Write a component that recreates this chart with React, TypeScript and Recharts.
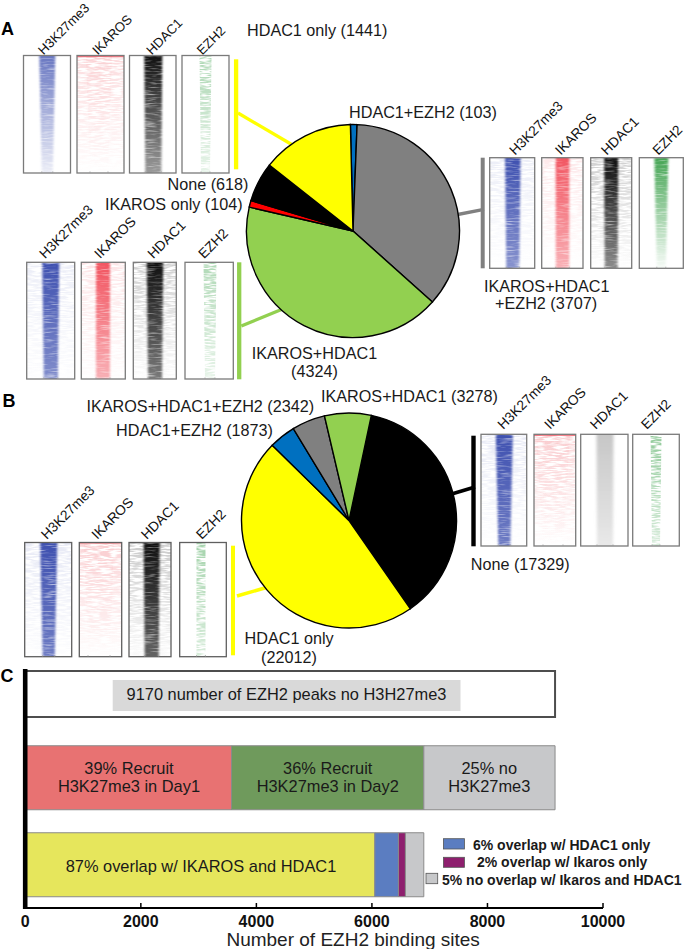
import React from "react";
import { BarChart, Bar, XAxis, YAxis, PieChart, Pie, Cell } from "recharts";

// ---------- data ----------
const pieACategories = ["HDAC1+EZH2", "IKAROS+HDAC1+EZH2", "IKAROS+HDAC1", "IKAROS only", "None", "HDAC1 only"];
const pieAValues = [103, 3707, 4324, 104, 618, 1441];
const pieBCategories = ["None", "HDAC1 only", "HDAC1+EZH2", "IKAROS+HDAC1+EZH2", "IKAROS+HDAC1"];
const pieBValues = [17329, 22012, 1873, 2342, 3278];
const totalRowCategory = ["No H3K27me3 peaks"];
const totalRowValues = [9170];
const stackCategories = ["Recruitment", "Overlap"];
const recruitDay1 = [3570, 0];
const recruitDay2 = [3328, 0];
const noMark = [2272, 0];
const overlapBoth = [0, 6050];
const overlapHdac = [0, 409];
const overlapIkaros = [0, 121];
const overlapNone = [0, 318];
const xTicks = [0, 2000, 4000, 6000, 8000, 10000];
const tracks = ["H3K27me3", "IKAROS", "HDAC1", "EZH2"];

const pieAData = pieACategories.map((name, i) => ({ name, value: pieAValues[i] }));
const pieBData = pieBCategories.map((name, i) => ({ name, value: pieBValues[i] }));
const totalData = totalRowCategory.map((name, i) => ({ name, total: totalRowValues[i] }));
const stackData = stackCategories.map((name, i) => ({
  name,
  day1: recruitDay1[i],
  day2: recruitDay2[i],
  none: noMark[i],
  both: overlapBoth[i],
  hdac: overlapHdac[i],
  ikaros: overlapIkaros[i],
  rest: overlapNone[i],
}));

// ---------- styles ----------
const FONT = "'Liberation Sans', Arial, sans-serif";
const pieAColors = ["#0070c0", "#808080", "#92d050", "#ff0000", "#000000", "#ffff00"];
const pieBColors = ["#000000", "#ffff00", "#0070c0", "#808080", "#92d050"];
const BLUE = "#3f51b0";
const RED = "#f04552";
const PINK = "#f48a90";
const BLACK = "#111111";
const GREEN = "#3aa04a";

// ---------- heat-map panel layout ----------
type Panel = {
  x0: number; x1: number; lx: number; color: string;
  c: number; wt: number; wb: number; ot: number; ob: number;
  washColor?: string; wt0?: number; wb0?: number; smooth?: boolean; topLine?: string; speck?: boolean;
};
type Group = { y0: number; y1: number; ly: number; frame: string; labelSize: number; panels: Panel[] };

const groups: Group[] = [
  {
    y0: 55.5, y1: 173, ly: 55.5, frame: "#7a7a7a", labelSize: 13.2,
    panels: [
      { x0: 23.5, x1: 70.5, lx: 43.5, color: BLUE, c: 47.3, wt: 16, wb: 11, ot: 0.78, ob: 0.1 },
      { x0: 77, x1: 124, lx: 97.7, color: PINK, c: 99, wt: 26, wb: 18, ot: 0.12, ob: 0, washColor: PINK, wt0: 0.3, wb0: 0, topLine: RED, speck: true },
      { x0: 129.5, x1: 176, lx: 151.7, color: BLACK, c: 153.3, wt: 18, wb: 16, ot: 1, ob: 0.42 },
      { x0: 182, x1: 229, lx: 202.3, color: GREEN, c: 205.5, wt: 12, wb: 9, ot: 0.42, ob: 0.12, speck: true },
    ],
  },
  {
    y0: 157.7, y1: 268.3, ly: 155.7, frame: "#7a7a7a", labelSize: 13.8,
    panels: [
      { x0: 489.7, x1: 534.7, lx: 515, color: BLUE, c: 512.8, wt: 15.5, wb: 13, ot: 1, ob: 0.62, washColor: BLUE, wt0: 0.1, wb0: 0 },
      { x0: 541.7, x1: 583, lx: 560.7, color: RED, c: 562.5, wt: 13.5, wb: 13.5, ot: 0.9, ob: 0.42, washColor: RED, wt0: 0.12, wb0: 0 },
      { x0: 590.7, x1: 631.7, lx: 606.7, color: BLACK, c: 611.2, wt: 14, wb: 13, ot: 1, ob: 0.48, washColor: BLACK, wt0: 0.2, wb0: 0 },
      { x0: 639.3, x1: 683.3, lx: 658.3, color: GREEN, c: 661.3, wt: 14, wb: 9, ot: 0.95, ob: 0.04 },
    ],
  },
  {
    y0: 262.3, y1: 379, ly: 259.3, frame: "#7a7a7a", labelSize: 13.8,
    panels: [
      { x0: 26.7, x1: 74.7, lx: 45, color: BLUE, c: 50.8, wt: 17, wb: 14, ot: 1, ob: 0.65, washColor: BLUE, wt0: 0.1, wb0: 0.01 },
      { x0: 81.3, x1: 125.3, lx: 100, color: RED, c: 103, wt: 14, wb: 14, ot: 0.9, ob: 0.42, washColor: RED, wt0: 0.14, wb0: 0.01 },
      { x0: 133.3, x1: 176.3, lx: 153.3, color: BLACK, c: 155, wt: 16.5, wb: 14, ot: 1, ob: 0.55, washColor: BLACK, wt0: 0.2, wb0: 0.01 },
      { x0: 185, x1: 233.3, lx: 204, color: GREEN, c: 210, wt: 13, wb: 10, ot: 0.4, ob: 0.12, speck: true },
    ],
  },
  {
    y0: 434.3, y1: 546, ly: 430, frame: "#7a7a7a", labelSize: 13.8,
    panels: [
      { x0: 481, x1: 526.7, lx: 503.3, color: BLUE, c: 504.3, wt: 17, wb: 12, ot: 1, ob: 0.75, washColor: BLUE, wt0: 0.12, wb0: 0 },
      { x0: 534, x1: 575.7, lx: 550, color: PINK, c: 553, wt: 34, wb: 20, ot: 0.12, ob: 0, washColor: PINK, wt0: 0.36, wb0: 0, topLine: RED, speck: true },
      { x0: 580.7, x1: 628, lx: 595.7, color: "#b4b4b4", c: 605, wt: 17, wb: 16, ot: 0.75, ob: 0.3, smooth: true },
      { x0: 632.7, x1: 679.3, lx: 646.7, color: GREEN, c: 656, wt: 11, wb: 8, ot: 0.55, ob: 0.2, speck: true },
    ],
  },
  {
    y0: 542.5, y1: 656.7, ly: 540, frame: "#5f5f5f", labelSize: 13.8,
    panels: [
      { x0: 24.7, x1: 71.7, lx: 46.7, color: BLUE, c: 48.7, wt: 17, wb: 12, ot: 1, ob: 0.75, washColor: BLUE, wt0: 0.12, wb0: 0.01 },
      { x0: 79.3, x1: 121.7, lx: 97.3, color: PINK, c: 99, wt: 30, wb: 22, ot: 0.1, ob: 0, washColor: PINK, wt0: 0.36, wb0: 0, topLine: PINK, speck: true },
      { x0: 129, x1: 171, lx: 146.7, color: BLACK, c: 151.7, wt: 16, wb: 14, ot: 1, ob: 0.65, washColor: BLACK, wt0: 0.22, wb0: 0.02 },
      { x0: 179.7, x1: 226.3, lx: 201.7, color: GREEN, c: 201, wt: 9, wb: 9, ot: 0.45, ob: 0.2, speck: true },
    ],
  },
];

// ---------- connectors ----------
const bars = [
  { x: 236.1, y0: 59.3, y1: 169.3, w: 4.3, color: "#ffff00" },
  { x: 482.7, y0: 157.7, y1: 268.3, w: 4, color: "#808080" },
  { x: 239.2, y0: 262.3, y1: 379.3, w: 4.3, color: "#92d050" },
  { x: 473.5, y0: 435.7, y1: 546.3, w: 4.4, color: "#000000" },
  { x: 233, y0: 545.7, y1: 655.3, w: 4, color: "#ffff00" },
];
const links = [
  { x1: 238, y1: 113, x2: 296, y2: 147, w: 3.2, color: "#ffff00" },
  { x1: 484, y1: 209.3, x2: 450, y2: 216, w: 3.4, color: "#808080" },
  { x1: 241.3, y1: 326, x2: 290, y2: 306, w: 3.4, color: "#92d050" },
  { x1: 475, y1: 487, x2: 445, y2: 496, w: 3.6, color: "#000000" },
  { x1: 237, y1: 596, x2: 275, y2: 585, w: 3.6, color: "#ffff00" },
];

// ---------- free text ----------
const notes = [
  { t: "HDAC1 only (1441)", x: 247, y: 36 },
  { t: "None (618)", x: 167.5, y: 190 },
  { t: "IKAROS only (104)", x: 105, y: 210 },
  { t: "HDAC1+EZH2 (103)", x: 349, y: 118 },
  { t: "IKAROS+HDAC1", x: 484, y: 291.7 },
  { t: "+EZH2 (3707)", x: 495, y: 309 },
  { t: "IKAROS+HDAC1", x: 251.7, y: 359.3 },
  { t: "(4324)", x: 291, y: 377.3 },
  { t: "IKAROS+HDAC1+EZH2 (2342)", x: 86.5, y: 412.3 },
  { t: "HDAC1+EZH2 (1873)", x: 116, y: 436 },
  { t: "IKAROS+HDAC1 (3278)", x: 321, y: 401.7 },
  { t: "None (17329)", x: 470.7, y: 570 },
  { t: "HDAC1 only", x: 244.6, y: 644 },
  { t: "(22012)", x: 261, y: 663 },
];
const barNotes = [
  { t: "9170 number of EZH2 peaks no H3H27me3", x: 286.5, y: 700 },
  { t: "39% Recruit", x: 129, y: 774.3 },
  { t: "H3K27me3 in Day1", x: 129, y: 791.7 },
  { t: "36% Recruit", x: 327.7, y: 774.3 },
  { t: "H3K27me3 in Day2", x: 327.7, y: 791.5 },
  { t: "25% no", x: 489.3, y: 774.3 },
  { t: "H3K27me3", x: 489.3, y: 791.5 },
  { t: "87% overlap w/ IKAROS and HDAC1", x: 201, y: 872.3 },
];
const legend = [
  { t: "6% overlap w/ HDAC1 only", sx: 443.4, sy: 838.7, sw: 21, sh: 10.3, fill: "#5b7dc1", tx: 473, ty: 850 },
  { t: "2% overlap w/ Ikaros only", sx: 443.4, sy: 857.3, sw: 21, sh: 10, fill: "#8e1f6e", tx: 477, ty: 867.3 },
  { t: "5% no overlap w/ Ikaros and HDAC1", sx: 426, sy: 873.3, sw: 11.7, sh: 10.4, fill: "#c7c8ca", tx: 442, ty: 885 },
];

function Heat({ p, g, id }: { p: Panel; g: Group; id: string }) {
  const h = g.y1 - g.y0;
  const pts = [
    [p.c - p.wt / 2, g.y0],
    [p.c + p.wt / 2, g.y0],
    [p.c + p.wb / 2, g.y1],
    [p.c - p.wb / 2, g.y1],
  ]
    .map((q) => q.join(","))
    .join(" ");
  const coreFilter = p.smooth ? "url(#soft)" : p.speck ? "url(#speck)" : "url(#streak)";
  return (
    <g>
      <defs>
        <clipPath id={`clip-${id}`}>
          <rect x={p.x0} y={g.y0} width={p.x1 - p.x0} height={h} />
        </clipPath>
        <linearGradient id={`core-${id}`} x1="0" y1="0" x2="0" y2="1">
          <stop offset="0" stopColor={p.color} stopOpacity={p.ot} />
          <stop offset="1" stopColor={p.color} stopOpacity={p.ob} />
        </linearGradient>
        {p.washColor && (
          <linearGradient id={`wash-${id}`} x1="0" y1="0" x2="0" y2="1">
            <stop offset="0" stopColor={p.washColor} stopOpacity={p.wt0} />
            <stop offset="0.7" stopColor={p.washColor} stopOpacity={((p.wt0 || 0) + (p.wb0 || 0)) / 3} />
            <stop offset="1" stopColor={p.washColor} stopOpacity={p.wb0} />
          </linearGradient>
        )}
      </defs>
      <rect x={p.x0} y={g.y0} width={p.x1 - p.x0} height={h} fill="#fff" />
      <g clipPath={`url(#clip-${id})`}>
        {p.washColor && (
          <rect x={p.x0} y={g.y0} width={p.x1 - p.x0} height={h} fill={`url(#wash-${id})`} filter="url(#speck)" />
        )}
        <polygon points={pts} fill={`url(#core-${id})`} filter={coreFilter} />
        {p.topLine && <rect x={p.x0} y={g.y0} width={p.x1 - p.x0} height={1.6} fill={p.topLine} opacity={0.7} />}
      </g>
      <rect x={p.x0} y={g.y0} width={p.x1 - p.x0} height={h} fill="none" stroke={g.frame} strokeWidth={1.3} />
      {[p.c - p.wb / 2, p.c + p.wb / 2].map((tx, i) => (
        <line key={i} x1={tx} x2={tx} y1={g.y1 - 1.6} y2={g.y1} stroke="#999" strokeWidth={0.7} />
      ))}
    </g>
  );
}

const txt = { fontFamily: FONT, fontSize: 16.2, fill: "#1a1a1a" };
const chartBoxStyle = (left: number, top: number): React.CSSProperties => ({ position: "absolute", left, top });
const SEG = "#8a8a8a";

export default function App() {
  return (
    <div style={{ position: "absolute", left: 0, top: 0, width: 685, height: 949, overflow: "hidden", background: "#fff" }}>
      {/* Panel C — total row */}
      <div style={chartBoxStyle(0, 670)}>
        <BarChart
          width={685}
          height={48}
          layout="vertical"
          data={totalData}
          margin={{ left: 25.3, right: 82, top: 0, bottom: 0 }}
          barCategoryGap={1}
        >
          <XAxis type="number" domain={[0, 10000]} hide />
          <YAxis type="category" dataKey="name" hide />
          <Bar dataKey="total" fill="#ffffff" stroke="#4d4d4d" strokeWidth={2} isAnimationActive={false} />
        </BarChart>
      </div>
      {/* Panel C — stacked rows and axis */}
      <div style={chartBoxStyle(0, 734)}>
        <BarChart
          width={685}
          height={215}
          layout="vertical"
          data={stackData}
          margin={{ left: 25.3, right: 82, top: 0, bottom: 0 }}
          barCategoryGap={11.75}
        >
          <XAxis
            type="number"
            domain={[0, 10000]}
            ticks={xTicks}
            interval={0}
            height={41}
            axisLine={{ stroke: "#000", strokeWidth: 2 }}
            tickLine={{ stroke: "#000", strokeWidth: 1.5 }}
            tickSize={-5}
            tickMargin={13}
            tick={{ fontFamily: FONT, fontSize: 16, fontWeight: 700, fill: "#111" }}
            label={{
              value: "Number of EZH2 binding sites",
              position: "insideBottom",
              offset: 3,
              dx: 39,
              style: { fontFamily: FONT, fontSize: 19, fill: "#222", textAnchor: "middle" },
            }}
          />
          <YAxis type="category" dataKey="name" hide />
          <Bar dataKey="day1" stackId="s" fill="#e87272" stroke={SEG} isAnimationActive={false} />
          <Bar dataKey="day2" stackId="s" fill="#6f9a5c" stroke={SEG} isAnimationActive={false} />
          <Bar dataKey="none" stackId="s" fill="#c7c8ca" stroke={SEG} isAnimationActive={false} />
          <Bar dataKey="both" stackId="s" fill="#e6e65c" stroke={SEG} isAnimationActive={false} />
          <Bar dataKey="hdac" stackId="s" fill="#5b7dc1" stroke={SEG} isAnimationActive={false} />
          <Bar dataKey="ikaros" stackId="s" fill="#8e1f6e" stroke={SEG} isAnimationActive={false} />
          <Bar dataKey="rest" stackId="s" fill="#c7c8ca" stroke={SEG} isAnimationActive={false} />
        </BarChart>
      </div>

      {/* Annotation layer */}
      <svg width={685} height={949} style={{ position: "absolute", left: 0, top: 0 }}>
        <defs>
          <filter id="streak" x="-40%" y="-2%" width="180%" height="104%" colorInterpolationFilters="sRGB">
            <feGaussianBlur in="SourceGraphic" stdDeviation="1.3 0" result="b" />
            <feTurbulence type="fractalNoise" baseFrequency="0.07 0.7" numOctaves={2} seed={4} result="n" />
            <feColorMatrix in="n" type="matrix" values="0 0 0 0 0  0 0 0 0 0  0 0 0 0 0  1.5 0 0 0 0.22" result="a" />
            <feComposite in="b" in2="a" operator="in" result="c" />
            <feGaussianBlur in="c" stdDeviation="0.5 0.35" />
          </filter>
          <filter id="speck" x="-10%" y="0" width="120%" height="100%" colorInterpolationFilters="sRGB">
            <feTurbulence type="fractalNoise" baseFrequency="0.09 0.65" numOctaves={2} seed={9} result="n" />
            <feColorMatrix in="n" type="matrix" values="0 0 0 0 0  0 0 0 0 0  0 0 0 0 0  4 0 0 0 -1.45" result="a" />
            <feComposite in="SourceGraphic" in2="a" operator="in" result="c" />
            <feGaussianBlur in="c" stdDeviation="0.5 0.3" />
          </filter>
          <filter id="soft" x="-40%" y="0" width="180%" height="100%" colorInterpolationFilters="sRGB">
            <feGaussianBlur stdDeviation="1.6 0" />
          </filter>
        </defs>

        {groups.map((g, gi) =>
          g.panels.map((p, pi) => (
            <g key={`${gi}-${pi}`}>
              <Heat p={p} g={g} id={`${gi}-${pi}`} />
              <text
                x={p.lx}
                y={g.ly}
                transform={`rotate(-45 ${p.lx} ${g.ly})`}
                style={{ fontFamily: FONT, fontSize: g.labelSize, fill: "#111" }}
              >
                {tracks[pi]}
              </text>
            </g>
          ))
        )}

        {links.map((l, i) => (
          <line key={i} x1={l.x1} y1={l.y1} x2={l.x2} y2={l.y2} stroke={l.color} strokeWidth={l.w} />
        ))}
        {bars.map((b, i) => (
          <line key={i} x1={b.x} x2={b.x} y1={b.y0} y2={b.y1} stroke={b.color} strokeWidth={b.w} />
        ))}

        <text x={1} y={35} style={{ fontFamily: FONT, fontSize: 18, fontWeight: 700, fill: "#000" }}>A</text>
        <text x={2.5} y={407} style={{ fontFamily: FONT, fontSize: 18, fontWeight: 700, fill: "#000" }}>B</text>
        <text x={0.5} y={682} style={{ fontFamily: FONT, fontSize: 18, fontWeight: 700, fill: "#000" }}>C</text>

        {notes.map((n, i) => (
          <text key={i} x={n.x} y={n.y} style={txt}>{n.t}</text>
        ))}

        {/* Panel C decoration */}
        <line x1={25.2} x2={25.2} y1={669} y2={909} stroke="#000" strokeWidth={4.6} />
        <rect x={112.7} y={680} width={347.8} height={31} fill="#d9d9d9" />
        {barNotes.map((n, i) => (
          <text key={i} x={n.x} y={n.y} textAnchor="middle" style={{ ...txt, fontSize: 16.4 }}>{n.t}</text>
        ))}
        {legend.map((l, i) => (
          <g key={i}>
            <rect x={l.sx} y={l.sy} width={l.sw} height={l.sh} fill={l.fill} stroke="#555" strokeWidth={0.8} />
            <text x={l.tx} y={l.ty} style={{ fontFamily: FONT, fontSize: 14, fontWeight: 700, fill: "#1a1a1a" }}>{l.t}</text>
          </g>
        ))}
      </svg>

      {/* Pie A */}
      <div style={chartBoxStyle(233, 111)}>
        <PieChart width={240} height={240} margin={{ left: 0, right: 0, top: 0, bottom: 0 }}>
          <Pie
            data={pieAData}
            dataKey="value"
            nameKey="name"
            cx={120}
            cy={120}
            outerRadius={106.5}
            innerRadius={0}
            startAngle={91.4}
            endAngle={-268.6}
            stroke="#000"
            strokeWidth={1.4}
            isAnimationActive={false}
          >
            {pieAData.map((_, i) => (
              <Cell key={i} fill={pieAColors[i]} />
            ))}
          </Pie>
        </PieChart>
      </div>
      {/* Pie B */}
      <div style={chartBoxStyle(229, 400)}>
        <PieChart width={240} height={240} margin={{ left: 0, right: 0, top: 0, bottom: 0 }}>
          <Pie
            data={pieBData}
            dataKey="value"
            nameKey="name"
            cx={120}
            cy={120.5}
            outerRadius={107.5}
            innerRadius={0}
            startAngle={78}
            endAngle={-282}
            stroke="#000"
            strokeWidth={1.4}
            isAnimationActive={false}
          >
            {pieBData.map((_, i) => (
              <Cell key={i} fill={pieBColors[i]} />
            ))}
          </Pie>
        </PieChart>
      </div>
    </div>
  );
}
